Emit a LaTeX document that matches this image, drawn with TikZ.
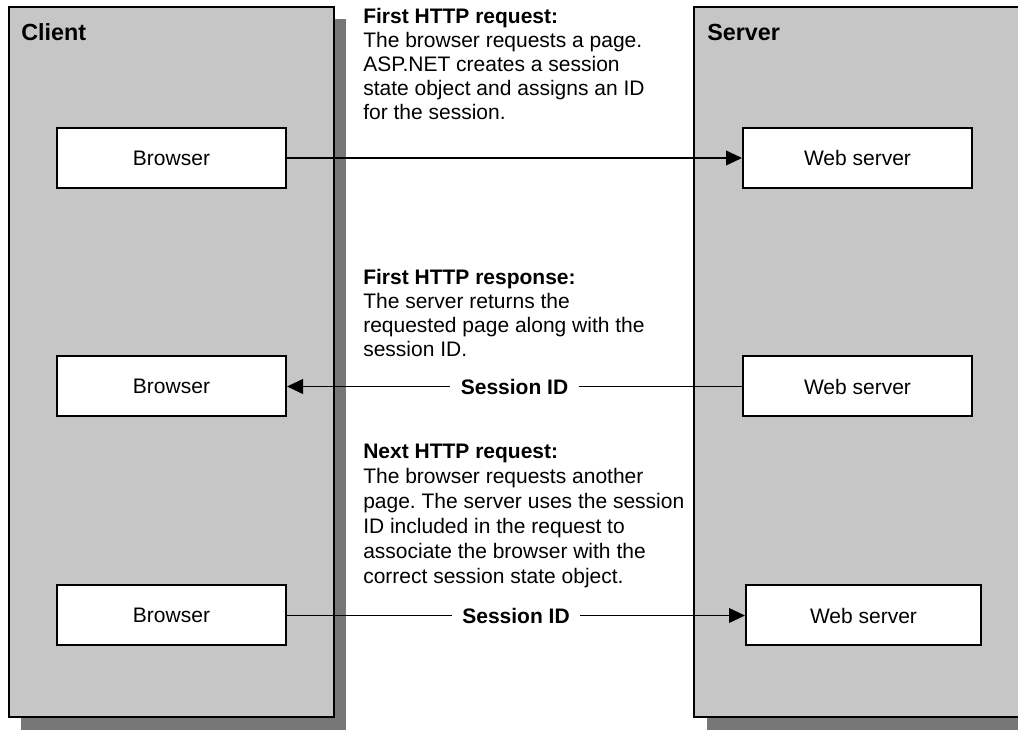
\documentclass[tikz,border=0pt]{standalone}
\usepackage{fontspec}
\setmainfont{Liberation Sans}
\usetikzlibrary{arrows.meta}
\definecolor{panelgray}{HTML}{C6C6C6}
\definecolor{shadowgray}{HTML}{777777}
\frenchspacing
\begin{document}
\begin{tikzpicture}[x=0.75pt,y=-0.75pt,
  font=\fontsize{15.75pt}{18pt}\selectfont,
  panel/.style={draw=black,line width=1.5pt,fill=panelgray},
  box/.style={draw=black,line width=1.5pt,fill=white,minimum width=171.75pt,minimum height=45pt,inner sep=0pt},
  conn/.style={line width=1.3pt,-{Triangle[length=12pt,width=11pt]}},
  lbl/.style={font=\fontsize{15.75pt}{18pt}\selectfont\bfseries,fill=white,inner xsep=8pt,inner ysep=2pt},
  note/.style={anchor=base west,align=left,inner sep=0pt},
  title/.style={anchor=base west,inner sep=0pt,font=\fontsize{17.5pt}{20pt}\selectfont\bfseries}]
\useasboundingbox (0,0) rectangle (1018,730);
\clip (0,0) rectangle (1018,730);
% panels with shadows
\fill[shadowgray] (21,19) rectangle (346,730);
\draw[panel] (9,7) rectangle (334,717);
\fill[shadowgray] (707,19) rectangle (1030,730);
\draw[panel] (694,7) rectangle (1030,717);
\node[title] (client) at (21,41) {Client};
\node[title] (server) at (707,41) {Server};
% boxes
\node[box] (br1) at (171.5,158) {Browser};
\node[box] (br2) at (171.5,386.5) {Browser};
\node[box] (br3) at (171.5,615.5) {Browser};
\node[box] (ws1) at (857.5,158) {Web server};
\node[box] (ws2) at (857.5,386.5) {Web server};
\node[box,minimum width=176.25pt] (ws3) at (863.5,615.5) {Web server};
% connectors
\draw[conn] (br1.east) -- (ws1.west);
\draw[conn] (ws2.west) -- node[lbl] (sid1) {Session ID} (br2.east);
\draw[conn] (br3.east) -- node[lbl] (sid2) {Session ID} (ws3.west);
% notes (anchored at the baseline of the last line)
\node[note] (n1) at (363,120) {\textbf{First HTTP request:}\\The browser requests a page.\\ASP.NET creates a session\\state object and assigns an ID\\for the session.};
\node[note] (n2) at (363,357) {\textbf{First HTTP response:}\\The server returns the\\requested page along with the\\session ID.};
\node[note,font=\fontsize{15.75pt}{18.75pt}\selectfont] (n3) at (363,584) {\textbf{Next HTTP request:}\\The browser requests another\\page. The server uses the session\\ID included in the request to\\associate the browser with the\\correct session state object.};
\end{tikzpicture}
\end{document}
